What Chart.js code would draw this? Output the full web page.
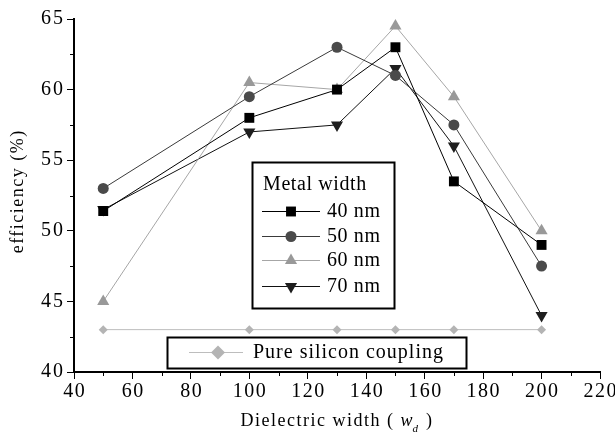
<!DOCTYPE html>
<html><head><meta charset="utf-8">
<script src="https://cdn.jsdelivr.net/npm/chart.js@4/dist/chart.umd.min.js"></script>
<style>html,body{margin:0;background:#fff}#wrap{width:615px;height:437px}</style>
</head><body><div id="wrap"><canvas id="c"></canvas></div>
<script>
// dielectric width (x) and efficiency (%)
const widths   = [50, 100, 130, 150, 170, 200];
const eff40nm  = [51.4, 58.0, 60.0, 63.0, 53.5, 49.0];
const eff50nm  = [53.0, 59.5, 63.0, 61.0, 57.5, 47.5];
const eff60nm  = [45.0, 60.5, 60.0, 64.5, 59.5, 50.0];
const eff70nm  = [51.5, 57.0, 57.5, 61.5, 56.0, 44.0];
const effPure  = [43, 43, 43, 43, 43, 43];
const metalLabels = ['40 nm', '50 nm', '60 nm', '70 nm'];
const pureLabel = 'Pure silicon coupling';
const FONT = "'Liberation Serif', 'Times New Roman', serif";

const pts = arr => arr.map((v, i) => ({ x: widths[i], y: v }));

function series(label, vals, color, line, style, r, rot){
  return { label, data: pts(vals), showLine:true, borderColor:line, borderWidth:1,
    backgroundColor:color, pointBackgroundColor:color, pointBorderColor:color, pointBorderWidth:0,
    pointStyle:style, pointRadius:r, pointRotation:rot || 0 };
}

const datasets = [
  series(metalLabels[0], eff40nm, '#000', '#000', 'rect', 7),
  series(metalLabels[1], eff50nm, '#4a4a4a', '#3a3a3a', 'circle', 5.5),
  series(metalLabels[2], eff60nm, '#999', '#a6a6a6', 'triangle', 7),
  series(metalLabels[3], eff70nm, '#1e1e1e', '#111', 'triangle', 7, 180),
  series(pureLabel, effPure, '#b4b4b4', '#bdbdbd', 'rectRot', 4.5),
];

function drawMark(ctx, ds, x, y){
  Chart.helpers.drawPoint(ctx, { pointStyle: ds.pointStyle, radius: ds.pointRadius, rotation: ds.pointRotation, borderWidth: 0 }, x, y);
}

// text with letter spacing, without the trailing gap
function spaced(ctx, text, x, y, align, sp){
  ctx.letterSpacing = sp + 'px';
  const w = ctx.measureText(text).width - sp;
  const left = align === 'center' ? x - w / 2 : align === 'right' ? x - w : x;
  ctx.textAlign = 'left';
  ctx.fillText(text, left, y);
  return w + sp;
}

const extras = {
  id:'extras',
  afterDraw(chart){
    const ctx = chart.ctx, xs = chart.scales.x, ys = chart.scales.y;
    ctx.save();
    ctx.strokeStyle = '#000'; ctx.lineWidth = 1;
    // minor ticks
    for(let v = 50; v < 220; v += 20){
      const px = Math.round(xs.getPixelForValue(v)) + 0.5;
      ctx.beginPath(); ctx.moveTo(px, ys.bottom); ctx.lineTo(px, ys.bottom + 4); ctx.stroke();
    }
    for(let v = 42.5; v < 65; v += 5){
      const py = Math.round(ys.getPixelForValue(v)) + 0.5;
      ctx.beginPath(); ctx.moveTo(xs.left, py); ctx.lineTo(xs.left - 4, py); ctx.stroke();
    }
    // tick labels
    ctx.fillStyle = '#000';
    ctx.textBaseline = 'middle';
    ctx.font = '20px ' + FONT;
    xs.ticks.forEach(t => spaced(ctx, String(t.value), xs.getPixelForValue(t.value), 392, 'center', 1.5));
    ys.ticks.forEach(t => spaced(ctx, String(t.value), 63, ys.getPixelForValue(t.value), 'right', 2));

    // axis titles
    const ty = 421;
    ctx.font = '18px ' + FONT;
    ctx.letterSpacing = '1.5px';
    const t1 = 'Dielectric width ( ', t2 = 'w', t3 = ' )';
    const w1 = ctx.measureText(t1).width, w3 = ctx.measureText(t3).width;
    ctx.font = 'italic 18px ' + FONT;
    const w2 = ctx.measureText(t2).width + 6;
    let tx = (xs.left + xs.right) / 2 - (w1 + w2 + w3) / 2;
    ctx.textAlign = 'left';
    ctx.font = '18px ' + FONT; ctx.fillText(t1, tx, ty); tx += w1;
    ctx.font = 'italic 18px ' + FONT; ctx.fillText(t2, tx, ty);
    ctx.font = 'italic 11px ' + FONT; ctx.fillText('d', tx + 12, ty + 8); tx += w2;
    ctx.font = '18px ' + FONT; ctx.fillText(t3, tx, ty);
    ctx.save();
    ctx.translate(18, 192);
    ctx.rotate(-Math.PI / 2);
    ctx.font = '18px ' + FONT;
    spaced(ctx, 'efficiency (%)', 0, 0, 'center', 1.5);
    ctx.restore();

    // metal width legend box
    ctx.fillStyle = '#fff';
    ctx.fillRect(252, 162, 143, 147);
    ctx.lineWidth = 2; ctx.strokeStyle = '#000';
    ctx.strokeRect(252.5, 162.5, 142, 146);
    ctx.fillStyle = '#000'; ctx.font = '20px ' + FONT;
    spaced(ctx, 'Metal width', 263, 185, 'left', 0.6);
    const rows = [211, 236, 260, 286];
    for(let i = 0; i < 4; i++){
      const ds = chart.data.datasets[i];
      ctx.strokeStyle = ds.borderColor; ctx.lineWidth = 1;
      ctx.beginPath(); ctx.moveTo(262, rows[i] + 0.5); ctx.lineTo(320, rows[i] + 0.5); ctx.stroke();
      ctx.fillStyle = ds.pointBackgroundColor; drawMark(ctx, ds, 291, rows[i] + 0.5);
      ctx.fillStyle = '#000'; spaced(ctx, ds.label, 327, rows[i] + 1, 'left', 0.6);
    }
    // pure silicon legend box
    ctx.fillStyle = '#fff'; ctx.fillRect(167, 337, 300, 32);
    ctx.lineWidth = 2; ctx.strokeStyle = '#000';
    ctx.strokeRect(167.5, 337.5, 299, 31);
    const pd = chart.data.datasets[4];
    ctx.strokeStyle = pd.borderColor; ctx.lineWidth = 1;
    ctx.beginPath(); ctx.moveTo(189, 352.5); ctx.lineTo(243, 352.5); ctx.stroke();
    ctx.fillStyle = pd.pointBackgroundColor; drawMark(ctx, Object.assign({}, pd, { pointRadius: 7 }), 218, 352.5);
    ctx.fillStyle = '#000'; ctx.font = '20px ' + FONT;
    spaced(ctx, pd.label, 253, 353, 'left', 1);
    ctx.restore();
  }
};

new Chart(document.getElementById('c'), {
  type:'scatter',
  data:{ datasets },
  plugins:[extras],
  options:{
    responsive:true, maintainAspectRatio:false, animation:false,
    layout:{ padding:{ top:19, right:15, left:0, bottom:0 } },
    plugins:{ legend:{ display:false }, tooltip:{ enabled:false } },
    scales:{
      x:{ type:'linear', min:40, max:220,
        afterFit: s => { s.height = 65; },
        grid:{ drawOnChartArea:false, tickLength:7, color:'#000', tickWidth:1 },
        border:{ color:'#000', width:2 },
        ticks:{ stepSize:20, display:false } },
      y:{ type:'linear', min:40, max:65,
        afterFit: s => { s.width = 74; },
        grid:{ drawOnChartArea:false, tickLength:7, color:'#000', tickWidth:1 },
        border:{ color:'#000', width:2 },
        ticks:{ stepSize:5, display:false } }
    }
  }
});
</script></body></html>
